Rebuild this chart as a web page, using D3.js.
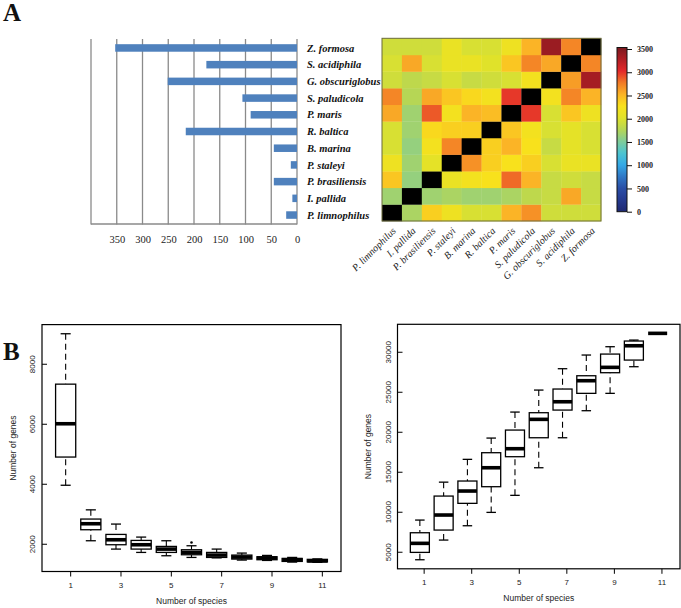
<!DOCTYPE html>
<html><head><meta charset="utf-8">
<script src="https://cdn.jsdelivr.net/npm/d3@7"></script>
<style>body{margin:0;background:#fff}svg{display:block}</style>
</head><body><svg id="c" width="681" height="608"></svg>
<script>
// ---------------- DATA ----------------
const species = ["P. limnophilus","I. pallida","P. brasiliensis","P. staleyi","B. marina","R. baltica","P. maris","S. paludicola","G. obscuriglobus","S. acidiphila","Z. formosa"];
const uniqueGenes = [21, 9, 45, 12, 45, 216, 90, 106, 251, 176, 353];
const barTicks = [0, 50, 100, 150, 200, 250, 300, 350];
const gridValues = [0, 50, 100, 150, 200, 250, 300, 350, 400];
// rows/cols follow `species` order; null = self (diagonal)
const pairMatrix = [
  [null,1700,2350,2150,1950,1950,2500,2650,1900,1900,1900],
  [1650,null,1650,1700,1650,1650,1700,1800,1850,2550,1850],
  [2400,1600,null,2100,2200,2250,2800,2500,1850,1900,1850],
  [2150,1650,2050,null,2650,2350,2250,2350,1950,2100,2100],
  [1950,1600,2200,2700,null,2350,2500,2250,1850,2050,1950],
  [1950,1650,2300,2350,2350,null,2400,2200,1950,2050,1950],
  [2550,1650,2850,2200,2500,2450,null,2950,1950,2400,2150],
  [2700,1750,2550,2400,2300,2200,2950,null,2200,2700,2500],
  [1900,1800,1850,1950,1850,1900,1950,2200,null,2600,3300],
  [1950,2550,1950,2100,2100,2000,2400,2700,2550,null,2700],
  [1900,1900,1900,2100,1950,1950,2150,2500,3350,2700,null]
];
const colorbarTicks = [0, 500, 1000, 1500, 2000, 2500, 3000, 3500];
const speciesCounts = [1,2,3,4,5,6,7,8,9,10,11];
// [lower whisker, Q1, median, Q3, upper whisker]
const coreStats = [
  [3950,4890,6000,7320,9000],
  [2100,2467,2667,2823,3130],
  [1822,1967,2133,2311,2656],
  [1711,1822,1967,2111,2222],
  [1600,1711,1822,1911,2100],
  [1544,1633,1711,1800,1933],
  [1530,1544,1622,1711,1822],
  [1456,1489,1556,1622,1689],
  [1444,1467,1522,1567,1611],
  [1389,1411,1467,1511,1544],
  [1380,1395,1430,1480,1495]
];
const coreOutliers = [[6, 2044]];
const panStats = [
  [4000,4920,6050,7375,8960],
  [6460,7710,9590,11960,13700],
  [8250,11050,12590,13840,16550],
  [9920,13130,15500,17380,19210],
  [12050,16880,17880,20210,22460],
  [15500,19250,21550,22380,25210],
  [19250,22710,23750,25340,27880],
  [22630,24800,26380,27000,29590],
  [24800,27380,28050,29710,30630],
  [28130,28960,30750,31340,31460],
  [32300,32300,32300,32300,32300]
];
const coreTicks = [2000, 4000, 6000, 8000];
const panTicks = [5000, 10000, 15000, 20000, 25000, 30000];
const xTicks = [1, 3, 5, 7, 9, 11];

// ---------------- DRAW ----------------
const svg = d3.select("#c");
const serif = "'Liberation Serif','Times New Roman',serif";
const sans = "'Liberation Sans',Arial,Helvetica,sans-serif";

svg.append("text").attr("x",3).attr("y",21).text("A")
  .attr("font-family",serif).attr("font-weight","bold").attr("font-size",25).attr("fill","#111");
svg.append("text").attr("x",3).attr("y",360).text("B")
  .attr("font-family",serif).attr("font-weight","bold").attr("font-size",25).attr("fill","#111");

// ---- Bar chart ----
const barOrder = species.slice().reverse();
const xBar = d3.scaleLinear().domain([0,400]).range([297,91]);
const yBar = d3.scaleBand().domain(barOrder).range([39.6,223.4]).paddingInner(0.55).paddingOuter(0.275);
const gBar = svg.append("g");
gBar.selectAll("line.grid").data(gridValues).join("line").attr("class","grid")
  .attr("x1",d=>xBar(d)).attr("x2",d=>xBar(d)).attr("y1",39).attr("y2",224.5)
  .attr("stroke","#8a8a8a").attr("stroke-width",1.3);
gBar.append("line").attr("x1",xBar(400)).attr("x2",xBar(0)).attr("y1",224).attr("y2",224)
  .attr("stroke","#8a8a8a").attr("stroke-width",1.3);
gBar.selectAll("rect.bar").data(species).join("rect").attr("class","bar")
  .attr("x",(d,i)=>xBar(uniqueGenes[i])).attr("width",(d,i)=>xBar(0)-xBar(uniqueGenes[i]))
  .attr("y",d=>yBar(d)).attr("height",yBar.bandwidth()).attr("fill","#4f81bd");
gBar.append("g").attr("transform","translate(0,224)")
  .call(d3.axisBottom(xBar).tickValues(barTicks).tickSize(0).tickPadding(12).tickFormat(d3.format("d")))
  .call(g=>g.select(".domain").remove())
  .selectAll("text").attr("font-family",serif).attr("font-size",10.5).attr("fill","#222");
gBar.selectAll("text.sp").data(species).join("text").attr("class","sp")
  .attr("x",307).attr("y",d=>yBar(d)+yBar.bandwidth()/2).attr("dy","0.35em")
  .attr("font-family",serif).attr("font-weight","bold").attr("font-style","italic")
  .attr("font-size",10.5).attr("fill","#111").text(d=>d);

// ---- Heatmap ----
const color = d3.scaleLinear()
  .domain([0,250,500,750,1000,1250,1500,1750,2000,2250,2500,2750,3000,3250,3500])
  .range(["#1e2870","#253a8f","#2a4ea6","#2f78c6","#34a9e6","#4cc4d0","#7fcc99","#b6d655","#e0e22a","#f8e11c","#fbb426","#f27a26","#e3282a","#b01e24","#7a1a1f"]);
const xH = d3.scaleBand().domain(species).range([382,601]);
const yH = d3.scaleBand().domain(barOrder).range([38.3,221]);
const cells = [];
pairMatrix.forEach((row,i)=>row.forEach((v,j)=>cells.push({r:species[i],c:species[j],v})));
const gH = svg.append("g");
gH.selectAll("rect.cell").data(cells).join("rect").attr("class","cell")
  .attr("x",d=>xH(d.c)).attr("y",d=>yH(d.r))
  .attr("width",xH.bandwidth()+0.3).attr("height",yH.bandwidth()+0.3)
  .attr("fill",d=>d.v==null?"#000":color(d.v));
gH.append("rect").attr("x",382).attr("y",38.3).attr("width",219).attr("height",182.7)
  .attr("fill","none").attr("stroke","#6b6b3a").attr("stroke-width",1);
gH.selectAll("text.hl").data(species).join("text").attr("class","hl")
  .attr("transform",d=>`translate(${xH(d)+xH.bandwidth()/2+2},229) rotate(-45)`)
  .attr("text-anchor","end").attr("dy","0.35em")
  .attr("font-family",serif).attr("font-style","italic").attr("font-size",10).attr("fill","#222")
  .text(d=>d);

// colorbar
const yC = d3.scaleLinear().domain([0,3500]).range([211.7,49]);
const grad = svg.append("defs").append("linearGradient").attr("id","cbar")
  .attr("x1",0).attr("y1",1).attr("x2",0).attr("y2",0);
grad.selectAll("stop").data(d3.range(0,3501,125)).join("stop")
  .attr("offset",d=>d/3500).attr("stop-color",d=>color(d));
svg.append("rect").attr("x",617).attr("y",yC(3500)-1.5).attr("width",10)
  .attr("height",yC(0)-yC(3500)+1.5).attr("fill","url(#cbar)").attr("stroke","#111").attr("stroke-width",1);
svg.append("g").attr("transform","translate(627,0)")
  .call(d3.axisRight(yC).tickValues(colorbarTicks).tickSize(5).tickPadding(5).tickFormat(d3.format("d")))
  .call(g=>g.select(".domain").remove())
  .call(g=>g.selectAll("line").attr("stroke","#111"))
  .selectAll("text").attr("font-family",serif).attr("font-weight","bold").attr("font-size",8).attr("fill","#222");

// ---- Boxplots ----
function boxPanel(opt){
  const {stats, x, y, yTicks, left, right, top, bottom, axisShift, yLabelX, outliers} = opt;
  const g = svg.append("g");
  const w = 0.8*(x(2)-x(1));
  const b = g.selectAll("g.box").data(stats).join("g").attr("class","box")
    .attr("transform",(d,i)=>`translate(${x(speciesCounts[i])},0)`);
  b.append("line").attr("y1",d=>y(d[4])).attr("y2",d=>y(d[3])).attr("stroke","#000").attr("stroke-width",1.1).attr("stroke-dasharray","6,4");
  b.append("line").attr("y1",d=>y(d[0])).attr("y2",d=>y(d[1])).attr("stroke","#000").attr("stroke-width",1.1).attr("stroke-dasharray","6,4");
  b.append("line").attr("x1",-w/4).attr("x2",w/4).attr("y1",d=>y(d[4])).attr("y2",d=>y(d[4])).attr("stroke","#000").attr("stroke-width",1.3);
  b.append("line").attr("x1",-w/4).attr("x2",w/4).attr("y1",d=>y(d[0])).attr("y2",d=>y(d[0])).attr("stroke","#000").attr("stroke-width",1.3);
  b.append("rect").attr("x",-w/2).attr("width",w).attr("y",d=>y(d[3])).attr("height",d=>y(d[1])-y(d[3]))
    .attr("fill","#fff").attr("stroke","#000").attr("stroke-width",1.3);
  b.append("line").attr("x1",-w/2).attr("x2",w/2).attr("y1",d=>y(d[2])).attr("y2",d=>y(d[2])).attr("stroke","#000").attr("stroke-width",3.6);
  g.selectAll("circle").data(outliers||[]).join("circle")
    .attr("cx",d=>x(d[0])).attr("cy",d=>y(d[1])).attr("r",1.3).attr("fill","#000");
  g.append("rect").attr("x",left).attr("y",top).attr("width",right-left).attr("height",bottom-top)
    .attr("fill","none").attr("stroke","#000").attr("stroke-width",1.2);
  g.append("g").attr("transform",`translate(${axisShift},${bottom})`)
    .call(d3.axisBottom(x).tickValues(xTicks).tickSize(5).tickPadding(6))
    .call(a=>a.select(".domain").remove())
    .call(a=>a.selectAll("line").attr("stroke","#000"))
    .selectAll("text").attr("font-family",sans).attr("font-size",8).attr("fill","#222");
  g.append("g").attr("transform",`translate(${left},0)`)
    .call(d3.axisLeft(y).tickValues(yTicks).tickSize(-5).tickFormat(d3.format("d")))
    .call(a=>a.select(".domain").remove())
    .call(a=>a.selectAll("line").attr("stroke","#000"))
    .selectAll("text").attr("x",0).attr("dy",0).attr("text-anchor","middle")
    .attr("transform","translate(-7,0) rotate(-90)")
    .attr("font-family",sans).attr("font-size",8).attr("fill","#222");
  g.append("text").attr("transform",`translate(${yLabelX},${(top+bottom)/2}) rotate(-90)`)
    .attr("text-anchor","middle").attr("dy","0.35em")
    .attr("font-family",sans).attr("font-size",8.5).attr("fill","#222").text("Number of genes");
  g.append("text").attr("x",(left+right)/2).attr("y",bottom+32)
    .attr("text-anchor","middle").attr("font-family",sans).attr("font-size",8.5).attr("fill","#222").text("Number of species");
}

const xL = d3.scaleLinear().domain([0.06,11.94]).range([42,341]);
const yL = d3.scaleLinear().domain([1075,9305]).range([571.5,324.6]);
boxPanel({stats:coreStats, x:xL, y:yL, yTicks:coreTicks, left:42, right:341, top:324.6, bottom:571.5,
  axisShift:4.5, yLabelX:13, outliers:coreOutliers});

const xR = d3.scaleLinear().domain([0.06,11.94]).range([397.5,680]);
const yR = d3.scaleLinear().domain([2868,33432]).range([568.8,324.3]);
boxPanel({stats:panStats, x:xR, y:yR, yTicks:panTicks, left:397.5, right:680, top:324.3, bottom:568.8,
  axisShift:3.8, yLabelX:368, outliers:[]});
</script></body></html>
